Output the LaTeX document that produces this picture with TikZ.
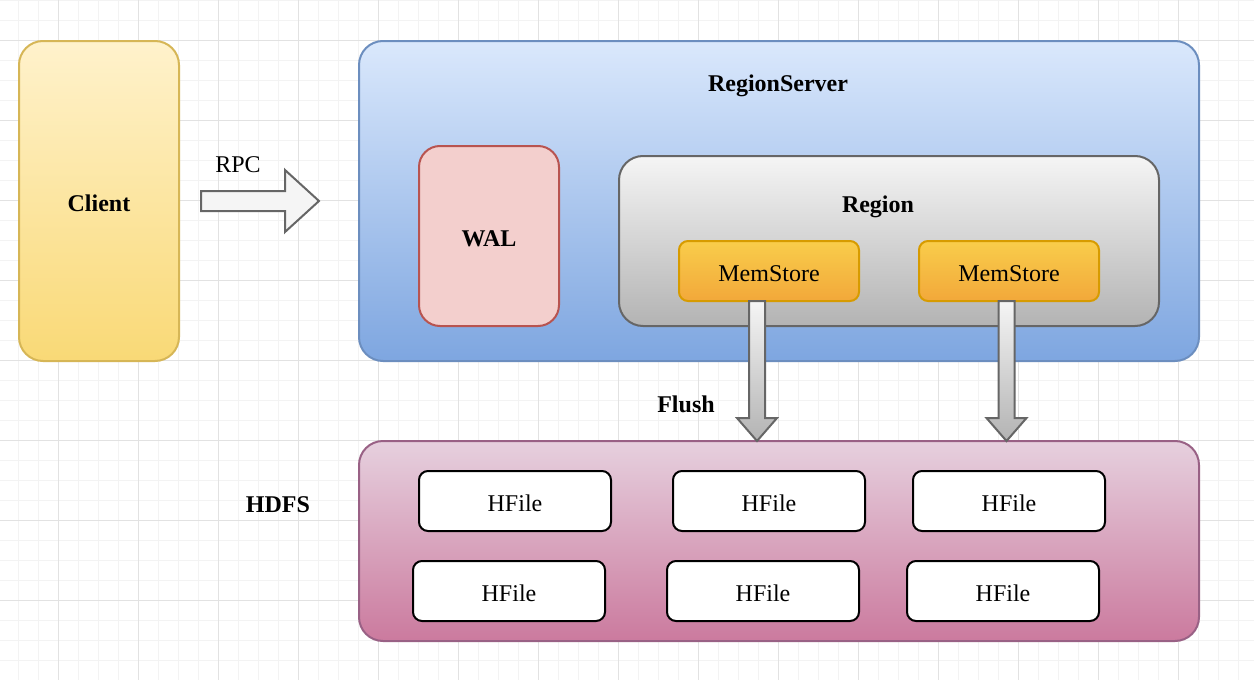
\documentclass[tikz,border=0pt]{standalone}
\usepackage{fontspec}
\setmainfont{Liberation Serif}
\usetikzlibrary{positioning,calc}

\definecolor{gridminor}{HTML}{F3F3F3}
\definecolor{gridmajor}{HTML}{E2E2E2}
\definecolor{clientTop}{HTML}{FFF2CC}
\definecolor{clientBot}{HTML}{F9D976}
\definecolor{clientLine}{HTML}{D6B656}
\definecolor{rsTop}{HTML}{DAE8FC}
\definecolor{rsBot}{HTML}{7EA6E0}
\definecolor{rsLine}{HTML}{6C8EBF}
\definecolor{walFill}{HTML}{F3CFCD}
\definecolor{walLine}{HTML}{B85450}
\definecolor{grayTop}{HTML}{F5F5F5}
\definecolor{grayBot}{HTML}{B3B3B3}
\definecolor{grayLine}{HTML}{666666}
\definecolor{memTop}{HTML}{F9CD4B}
\definecolor{memBot}{HTML}{F2A83A}
\definecolor{memLine}{HTML}{D79B00}
\definecolor{hdfsTop}{HTML}{E6D0DE}
\definecolor{hdfsBot}{HTML}{CB7A9E}
\definecolor{hdfsLine}{HTML}{996185}

\begin{document}
\begin{tikzpicture}[
  x=0.5pt, y=-0.5pt,
  box/.style={draw, rounded corners=12pt, line width=1pt, inner sep=0pt,
    text height=10pt, text depth=0pt, font=\fontsize{12}{14}\selectfont},
  client/.style={box, top color=clientTop, bottom color=clientBot, draw=clientLine,
    minimum width=80pt, minimum height=160pt, font=\fontsize{12}{14}\selectfont\bfseries},
  server/.style={box, top color=rsTop, bottom color=rsBot, draw=rsLine,
    minimum width=420pt, minimum height=160pt},
  wal/.style={box, fill=walFill, draw=walLine, rounded corners=10.5pt,
    minimum width=70pt, minimum height=90pt, font=\fontsize{12}{14}\selectfont\bfseries},
  region/.style={box, top color=grayTop, bottom color=grayBot, draw=grayLine,
    minimum width=270pt, minimum height=85pt},
  mem/.style={box, top color=memTop, bottom color=memBot, draw=memLine,
    rounded corners=4.5pt, minimum width=90pt, minimum height=30pt},
  hdfs/.style={box, top color=hdfsTop, bottom color=hdfsBot, draw=hdfsLine,
    minimum width=420pt, minimum height=100pt},
  hfile/.style={box, fill=white, draw=black, rounded corners=4.5pt,
    minimum width=96pt, minimum height=30pt},
  lab/.style={inner sep=0pt, text height=10pt, text depth=0pt, font=\fontsize{12}{14}\selectfont},
  blab/.style={lab, font=\fontsize{12}{14}\selectfont\bfseries},
  blockarr/.style={draw=grayLine, line width=1pt, line join=miter},
  gridline/.style={line width=0.5pt}]
  \fill[white] (0,0) rectangle (1254,680);
  \useasboundingbox (0,0) rectangle (1254,680);
  % background grid
  \foreach \gx in {18,38,...,1254} {\draw[gridline, gridminor] (\gx,0) -- (\gx,680);}
  \foreach \gy in {0,20,...,680} {\draw[gridline, gridminor] (0,\gy) -- (1254,\gy);}
  \foreach \gx in {58,138,...,1254} {\draw[gridline, gridmajor] (\gx,0) -- (\gx,680);}
  \foreach \gy in {40,120,...,680} {\draw[gridline, gridmajor] (0,\gy) -- (1254,\gy);}
  % client and region server
  \node[client] (client) at (99,201) {Client};
  \node[server] (rs) at (779,201) {};
  \node[blab] (rslab) at (778,81) {RegionServer};
  \node[wal] (wal) at (489,236) {WAL};
  \node[region] (region) at (889,241) {};
  \node[blab] (reglab) at (878,202) {Region};
  \node[mem] (mem1) at (769,271) {MemStore};
  \node[mem] (mem2) at (1009,271) {MemStore};
  % hdfs with hfiles
  \node[hdfs] (hdfs) at (779,541) {};
  \node[blab] (hdfslab) at (278,502) {HDFS};
  \foreach \hx [count=\k] in {515,769,1009} {\node[hfile] (hf\k) at (\hx,501) {HFile};}
  \foreach \hx [count=\k] in {509,763,1003} {\node[hfile] (hg\k) at (\hx,591) {HFile};}
  % rpc arrow
  \coordinate (rpcs) at ($(client.east)+(21,0)$);
  \draw[blockarr, fill=grayTop, shift={(rpcs)}]
    (0,-10) -- (84,-10) -- (84,-31) -- (118,0) -- (84,31) -- (84,10) -- (0,10) -- cycle;
  \node[lab] (rpclab) at (238,162) {RPC};
  % flush arrows
  \coordinate (f1) at ($(mem1.south)+(-12,-1)$);
  \coordinate (f2) at ($(mem2.south)+(-2.5,-1)$);
  \foreach \f in {f1,f2} {
    \draw[blockarr, top color=grayTop, bottom color=grayBot, shift={(\f)}]
      (-8,0) -- (-8,117) -- (-20,117) -- (0,140) -- (20,117) -- (8,117) -- (8,0) -- cycle;
  }
  \node[blab] (flushlab) at (686,402) {Flush};
\end{tikzpicture}
\end{document}
